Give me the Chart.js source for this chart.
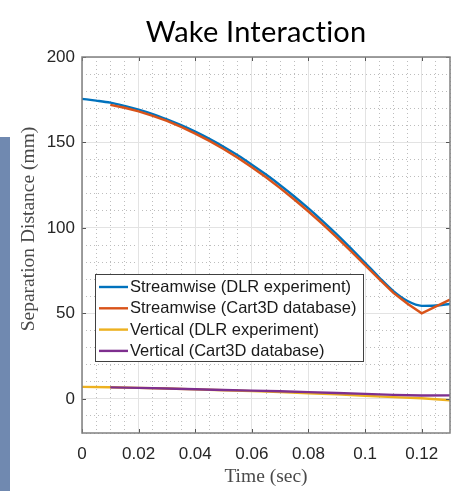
<!DOCTYPE html>
<html>
<head>
<meta charset="utf-8">
<script src="https://cdn.jsdelivr.net/npm/chart.js@4/dist/chart.umd.min.js"></script>
<style>
  html, body { margin: 0; padding: 0; background: #ffffff; }
  #wrap { position: relative; width: 452px; height: 491px; }
  #sidebar { position: absolute; left: 0; top: 137px; width: 10px; height: 354px; background: #7089b0; }
  canvas { position: absolute; left: 0; top: 0; }
</style>
</head>
<body>
<div id="wrap">
  <canvas id="c" width="452" height="491"></canvas>
  <div id="sidebar"></div>
</div>
<script>
// Streamwise and vertical store separation, DLR wind-tunnel experiment vs Cart3D database
const timeDLR = [0, 0.005, 0.01, 0.015, 0.02, 0.025, 0.03, 0.035, 0.04, 0.045, 0.05, 0.055, 0.06, 0.065,
                 0.07, 0.075, 0.08, 0.085, 0.09, 0.095, 0.1, 0.105, 0.11, 0.115, 0.12, 0.125, 0.13];
const streamDLR = [175.5, 174.5, 173.3, 171.4, 169.2, 166.6, 163.5, 160.1, 156.3, 152.1, 147.5, 142.5, 137.0, 131.2,
                   125.0, 118.4, 111.4, 104.0, 96.2, 88.0, 79.6, 71.0, 63.0, 57.2, 54.4, 54.6, 55.5];
const timeCart = [0.01, 0.015, 0.02, 0.025, 0.03, 0.035, 0.04, 0.045, 0.05, 0.055, 0.06, 0.065,
                  0.07, 0.075, 0.08, 0.085, 0.09, 0.095, 0.1, 0.105, 0.11, 0.115, 0.12, 0.13];
const streamCart = [172.0, 170.3, 168.2, 165.6, 162.6, 159.1, 155.2, 150.9, 146.2, 141.0, 135.5, 129.6,
                    123.3, 116.6, 109.6, 102.2, 94.4, 86.4, 78.2, 70.0, 62.0, 55.6, 50.0, 58.0];
const timeVertDLR = [0, 0.01, 0.02, 0.03, 0.04, 0.05, 0.06, 0.07, 0.08, 0.09, 0.1, 0.11, 0.12, 0.13];
const vertDLR = [7.0, 6.8, 6.4, 6.0, 5.5, 5.0, 4.5, 3.9, 3.3, 2.6, 1.8, 1.0, 0.3, -0.8];
const timeVertCart = [0.01, 0.02, 0.03, 0.04, 0.05, 0.06, 0.07, 0.08, 0.09, 0.1, 0.11, 0.12, 0.13];
const vertCart = [6.7, 6.4, 6.0, 5.6, 5.2, 4.8, 4.4, 3.9, 3.4, 2.9, 2.3, 1.9, 2.0];

const seriesNames = ['Streamwise (DLR experiment)', 'Streamwise (Cart3D database)',
                     'Vertical (DLR experiment)', 'Vertical (Cart3D database)'];
const xTicks = [0, 0.02, 0.04, 0.06, 0.08, 0.1, 0.12];
const yTicks = [0, 50, 100, 150, 200];
const chartTitle = 'Wake Interaction';
const xTitle = 'Time (sec)';
const yTitle = 'Separation Distance (mm)';

const colors = ['#0072BD', '#D95319', '#EDB120', '#7E2F8E'];

function pts(xs, ys) { return xs.map((x, i) => ({ x: x, y: ys[i] })); }

const datasets = [
  { label: seriesNames[0], data: pts(timeDLR, streamDLR), order: 4, cubicInterpolationMode: 'monotone' },
  { label: seriesNames[1], data: pts(timeCart, streamCart), order: 3, tension: 0 },
  { label: seriesNames[2], data: pts(timeVertDLR, vertDLR), order: 2, tension: 0 },
  { label: seriesNames[3], data: pts(timeVertCart, vertCart), order: 1, tension: 0 }
].map((d, i) => Object.assign(d, {
  borderColor: colors[i], backgroundColor: colors[i], borderWidth: 2.4,
  pointRadius: 0, fill: false, xAxisID: 'x', yAxisID: 'y'
}));

// MATLAB-style box, inward ticks, titles and legend
const decorations = {
  id: 'decorations',
  afterDatasetsDraw(chart) {
    const { ctx, chartArea: a, scales } = chart;
    ctx.save();
    // inward tick marks
    ctx.strokeStyle = '#555555';
    ctx.lineWidth = 1;
    const tl = 4;
    ctx.beginPath();
    xTicks.forEach(v => {
      const px = Math.round(scales.x.getPixelForValue(v)) + 0.5;
      ctx.moveTo(px, a.bottom); ctx.lineTo(px, a.bottom - tl);
      ctx.moveTo(px, a.top); ctx.lineTo(px, a.top + tl);
    });
    yTicks.forEach(v => {
      const py = Math.round(scales.y.getPixelForValue(v)) + 0.5;
      ctx.moveTo(a.left, py); ctx.lineTo(a.left + tl, py);
      ctx.moveTo(a.right, py); ctx.lineTo(a.right - tl, py);
    });
    ctx.stroke();
    // axes box
    ctx.strokeStyle = '#808080';
    ctx.lineWidth = 1.5;
    ctx.strokeRect(a.left, a.top, a.right - a.left, a.bottom - a.top);

    // legend
    const lx = 95, ly = 274, lw = 268, lh = 87, rowH = 21.3;
    ctx.fillStyle = '#ffffff';
    ctx.fillRect(lx, ly, lw, lh);
    ctx.strokeStyle = '#404040';
    ctx.lineWidth = 1;
    ctx.strokeRect(lx + 0.5, ly + 0.5, lw, lh);
    ctx.font = '16.5px "Liberation Sans", Arial, sans-serif';
    ctx.textBaseline = 'middle';
    ctx.textAlign = 'left';
    chart.data.datasets.forEach((d, i) => {
      const y = ly + 13 + i * rowH;
      ctx.strokeStyle = d.borderColor;
      ctx.lineWidth = 2.4;
      ctx.beginPath();
      ctx.moveTo(lx + 4, y); ctx.lineTo(lx + 33, y);
      ctx.stroke();
      ctx.fillStyle = '#1a1a1a';
      ctx.fillText(d.label, lx + 35, y + 0.5);
    });

    // chart title
    ctx.fillStyle = '#000000';
    ctx.textAlign = 'center';
    ctx.textBaseline = 'alphabetic';
    ctx.font = '29px Lato, "Open Sans", sans-serif';
    ctx.letterSpacing = '0.2px';
    ctx.fillText(chartTitle, 256, 42);
    ctx.letterSpacing = '0px';

    // axis titles
    ctx.fillStyle = '#4a4a4a';
    ctx.font = '19.5px "Liberation Serif", serif';
    ctx.textBaseline = 'middle';
    ctx.fillText(xTitle, (a.left + a.right) / 2, 477);
    ctx.translate(29, 229);
    ctx.rotate(-Math.PI / 2);
    ctx.fillText(yTitle, 0, 0);
    ctx.restore();
  }
};

new Chart(document.getElementById('c'), {
  type: 'line',
  data: { datasets: datasets },
  options: {
    responsive: false,
    animation: false,
    layout: { padding: { top: 57, right: 2, left: 0, bottom: 0 } },
    plugins: { legend: { display: false }, tooltip: { enabled: false }, title: { display: false } },
    scales: {
      xMinor: {
        type: 'linear', position: 'bottom', min: 0, max: 0.13,
        ticks: { display: false, stepSize: 0.005 },
        grid: { color: '#bdbdbd', lineWidth: 1, drawTicks: false },
        border: { display: false, dash: [1, 3] },
        afterFit(s) { s.height = 0; }
      },
      yMinor: {
        type: 'linear', position: 'left', min: -20, max: 200,
        ticks: { display: false, stepSize: 10 },
        grid: { color: '#bdbdbd', lineWidth: 1, drawTicks: false },
        border: { display: false, dash: [1, 3] },
        afterFit(s) { s.width = 0; }
      },
      x: {
        type: 'linear', position: 'bottom', min: 0, max: 0.13,
        afterBuildTicks(s) { s.ticks = xTicks.map(v => ({ value: v })); },
        ticks: {
          color: '#262626', padding: 11,
          font: { family: '"Liberation Sans", Arial, sans-serif', size: 17 },
          callback: v => String(v)
        },
        grid: { color: '#e3e3e3', lineWidth: 1, drawTicks: false },
        border: { display: false },
        afterFit(s) { s.height = 58; }
      },
      y: {
        type: 'linear', position: 'left', min: -20, max: 200,
        afterBuildTicks(s) { s.ticks = yTicks.map(v => ({ value: v })); },
        ticks: {
          color: '#262626', padding: 7,
          font: { family: '"Liberation Sans", Arial, sans-serif', size: 17 },
          callback: v => String(v)
        },
        grid: { color: '#e3e3e3', lineWidth: 1, drawTicks: false },
        border: { display: false },
        afterFit(s) { s.width = 82; }
      }
    }
  },
  plugins: [decorations]
});
</script>
</body>
</html>
